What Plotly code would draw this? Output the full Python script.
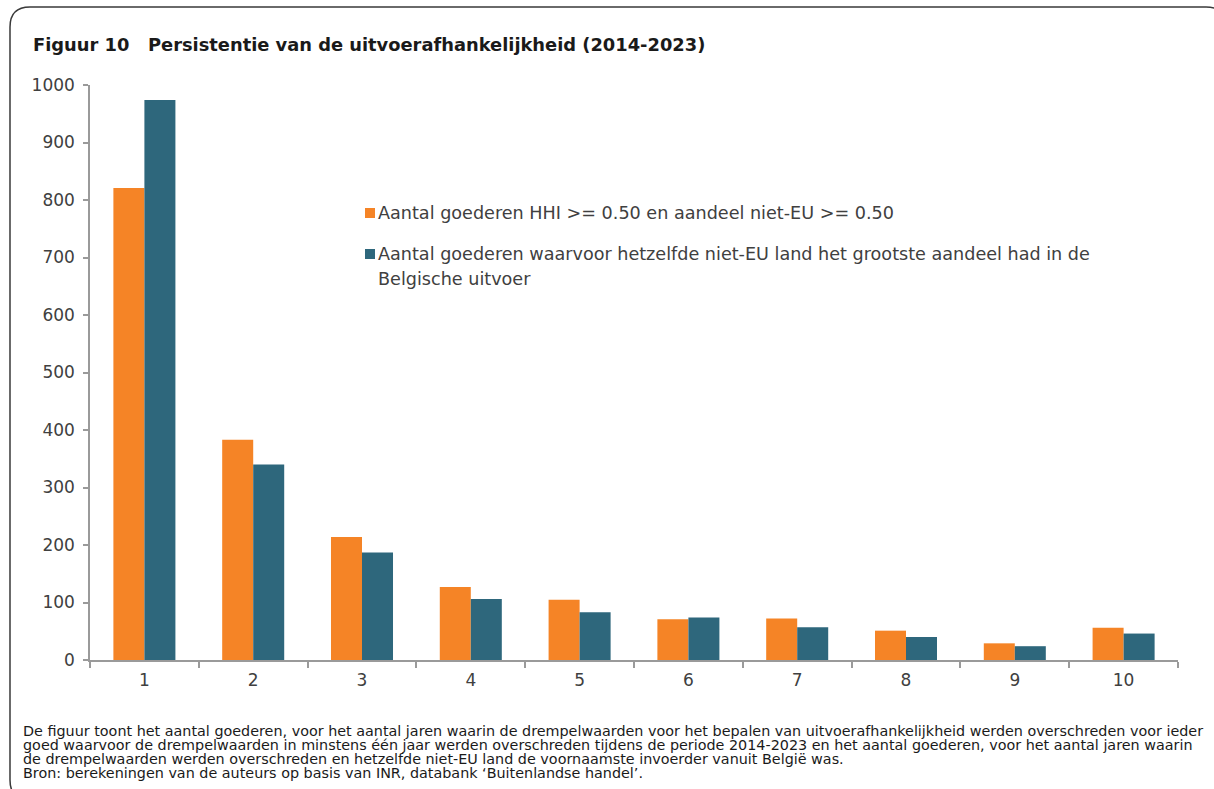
import plotly.graph_objects as go

# Number of years (1..10) in which the thresholds were exceeded
years = ["1", "2", "3", "4", "5", "6", "7", "8", "9", "10"]

# Series values (number of goods)
hhi_goods = [821, 383, 214, 127, 105, 71, 72, 51, 29, 56]
same_country_goods = [974, 340, 187, 106, 83, 74, 57, 40, 24, 46]

series_names = [
    "Aantal goederen HHI >= 0.50 en aandeel niet-EU >= 0.50",
    "Aantal goederen waarvoor hetzelfde niet-EU land het grootste aandeel had in de Belgische uitvoer",
]
legend_lines = [
    ["Aantal goederen HHI >= 0.50 en aandeel niet-EU >= 0.50"],
    ["Aantal goederen waarvoor hetzelfde niet-EU land het grootste aandeel had in de",
     "Belgische uitvoer"],
]

y_ticks = [0, 100, 200, 300, 400, 500, 600, 700, 800, 900, 1000]

title_text = "Figuur 10   Persistentie van de uitvoerafhankelijkheid (2014-2023)"
footnote_lines = [
    "De figuur toont het aantal goederen, voor het aantal jaren waarin de drempelwaarden voor het bepalen van uitvoerafhankelijkheid werden overschreden voor ieder",
    "goed waarvoor de drempelwaarden in minstens één jaar werden overschreden tijdens de periode 2014-2023 en het aantal goederen, voor het aantal jaren waarin",
    "de drempelwaarden werden overschreden en hetzelfde niet-EU land de voornaamste invoerder vanuit België was.",
    "Bron: berekeningen van de auteurs op basis van INR, databank ‘Buitenlandse handel’.",
]

ORANGE = "#F58426"
TEAL = "#2E677C"
AXIS = "#9a9a9a"
TEXT = "#404040"
FONT = "DejaVu Sans"

W, H = 1214, 789
L, R, T, B = 90, 36, 85, 129
PW, PH = W - L - R, H - T - B


def px(x):
    return (x - L) / PW


def py(y):
    return (H - B - y) / PH


fig = go.Figure()
fig.add_trace(go.Bar(x=years, y=hhi_goods, name=series_names[0],
                     marker=dict(color=ORANGE, line=dict(width=0))))
fig.add_trace(go.Bar(x=years, y=same_country_goods, name=series_names[1],
                     marker=dict(color=TEAL, line=dict(width=0))))

shapes = []
annotations = []

# Rounded frame around the whole figure (pixel coordinates, converted to paper)
fx0, fy0, fx1, fy1 = 10, 7, 1226, 800
rad = 20
path = (
    f"M {fx0 + rad},{fy0} L {fx1 - rad},{fy0} Q {fx1},{fy0} {fx1},{fy0 + rad} "
    f"L {fx1},{fy1 - rad} Q {fx1},{fy1} {fx1 - rad},{fy1} "
    f"L {fx0 + rad},{fy1} Q {fx0},{fy1} {fx0},{fy1 - rad} "
    f"L {fx0},{fy0 + rad} Q {fx0},{fy0} {fx0 + rad},{fy0} Z"
)


def conv_path(p):
    out = []
    for tok in p.split(" "):
        if "," in tok:
            a, b = tok.split(",")
            out.append(f"{px(float(a)):.5f},{py(float(b)):.5f}")
        else:
            out.append(tok)
    return " ".join(out)


shapes.append(dict(type="path", xref="paper", yref="paper", path=conv_path(path),
                   line=dict(color="#3a3a3a", width=1.5), layer="below"))

# Legend drawn as swatches and text lines
colors = [ORANGE, TEAL]
legend_y = [213, 254]
for i, lines in enumerate(legend_lines):
    cy = legend_y[i]
    shapes.append(dict(type="rect", xref="paper", yref="paper",
                       x0=px(365), x1=px(375), y0=py(cy + 5), y1=py(cy - 5),
                       fillcolor=colors[i], line=dict(width=0)))
    for j, line in enumerate(lines):
        annotations.append(dict(xref="paper", yref="paper", x=px(376), y=py(cy + 25 * j),
                                text=line, showarrow=False, xanchor="left", yanchor="middle",
                                font=dict(family=FONT, size=17.6, color=TEXT)))

# Title
annotations.append(dict(xref="paper", yref="paper", x=px(31), y=py(45), text=f"<b>{title_text}</b>",
                        showarrow=False, xanchor="left", yanchor="middle",
                        font=dict(family=FONT, size=17.85, color="#1a1a1a")))

# Footnote
for k, line in enumerate(footnote_lines):
    annotations.append(dict(xref="paper", yref="paper", x=px(21), y=py(731 + 14 * k), text=line,
                            showarrow=False, xanchor="left", yanchor="middle",
                            font=dict(family=FONT, size=14.35, color="#1a1a1a")))

fig.update_layout(
    width=W, height=H,
    margin=dict(l=L, r=R, t=T, b=B),
    paper_bgcolor="white", plot_bgcolor="white",
    barmode="group", bargap=0.43, bargroupgap=0,
    showlegend=False,
    shapes=shapes, annotations=annotations,
    font=dict(family=FONT, color=TEXT),
)
fig.update_xaxes(type="category", showgrid=False, showline=True, linecolor=AXIS, linewidth=2,
                 ticks="outside", tickson="boundaries", ticklen=6, tickcolor=AXIS, tickwidth=2,
                 ticklabelstandoff=4,
                 tickfont=dict(family=FONT, size=17, color=TEXT), zeroline=False)
fig.update_yaxes(range=[0, 1000], tickvals=y_ticks, showgrid=False, showline=True,
                 linecolor=AXIS, linewidth=1.5, ticks="outside", ticklen=5, tickcolor=AXIS,
                 tickwidth=1.5, ticklabelstandoff=5,
                 tickfont=dict(family=FONT, size=17, color=TEXT), zeroline=False)

fig.write_html("out.html")
